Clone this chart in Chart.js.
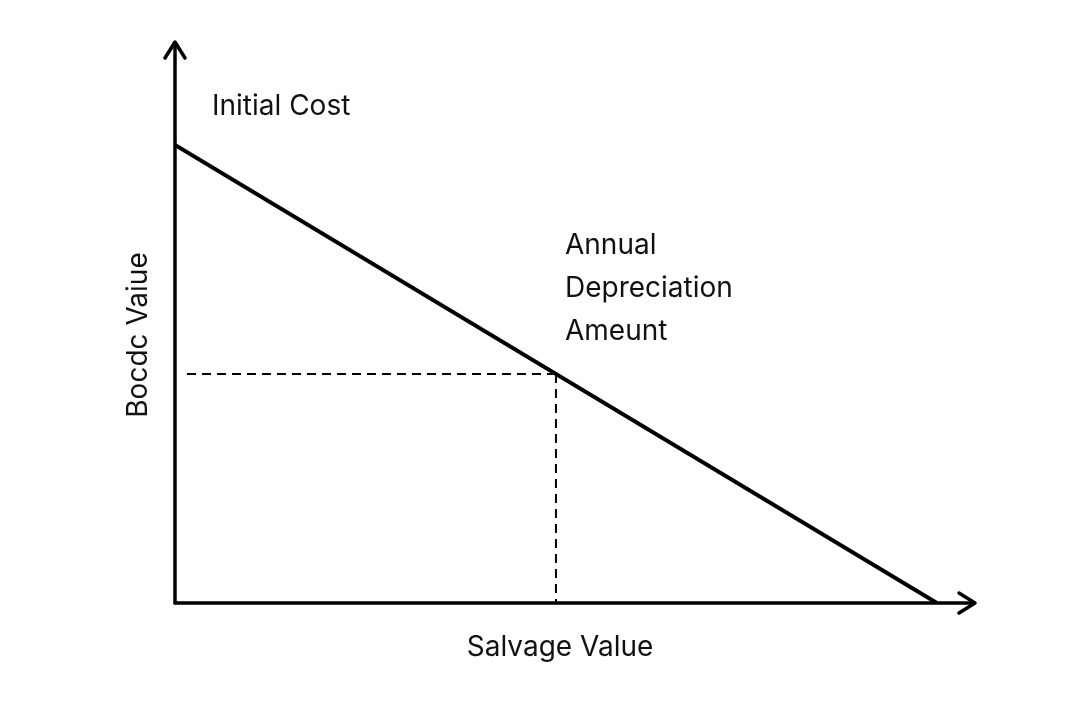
<!DOCTYPE html>
<html><head><meta charset="utf-8">
<script src="https://cdn.jsdelivr.net/npm/chart.js@4"></script>
<style>html,body{margin:0;padding:0;background:#fff}#c{display:block}</style>
</head><body>
<canvas id="c" width="1080" height="720"></canvas>
<script>
const lineX = [0, 10];
const lineY = [10, 0];
const markX = 5;
const markY = 5;
const xTitle = "Salvage Value";
const yTitle = "Bocdc Vaiue";
const labelInitial = "Initial Cost";
const labelAnnual = ["Annual", "Depreciation", "Ameunt"];

const FONT = '28px Inter, "Open Sans", sans-serif';

const deco = {
  id: 'deco',
  afterDraw(chart) {
    const {ctx, scales: {x, y}} = chart;
    const x0 = x.getPixelForValue(0), y0 = y.getPixelForValue(0);
    const xEnd = x.getPixelForValue(x.max), yEnd = y.getPixelForValue(y.max);
    ctx.save();
    ctx.strokeStyle = '#000'; ctx.lineWidth = 3.5; ctx.lineCap = 'round'; ctx.lineJoin = 'round';
    ctx.beginPath(); ctx.moveTo(x0, y0); ctx.lineTo(xEnd - 2, y0); ctx.stroke();
    ctx.beginPath(); ctx.moveTo(x0, y0); ctx.lineTo(x0, yEnd + 2); ctx.stroke();
    ctx.beginPath(); ctx.moveTo(xEnd - 16, y0 - 10); ctx.lineTo(xEnd, y0); ctx.lineTo(xEnd - 16, y0 + 10); ctx.stroke();
    ctx.beginPath(); ctx.moveTo(x0 - 10, yEnd + 16); ctx.lineTo(x0, yEnd); ctx.lineTo(x0 + 10, yEnd + 16); ctx.stroke();
    // dashed guides
    const mx = x.getPixelForValue(markX), my = y.getPixelForValue(markY);
    ctx.lineWidth = 2; ctx.lineCap = 'butt'; ctx.setLineDash([9, 6]);
    ctx.beginPath(); ctx.moveTo(x0 + 12, my); ctx.lineTo(mx, my); ctx.stroke();
    ctx.beginPath(); ctx.moveTo(mx, my); ctx.lineTo(mx, y0); ctx.stroke();
    ctx.setLineDash([]);
    // texts
    ctx.fillStyle = '#111'; ctx.font = FONT; ctx.textBaseline = 'middle';
    ctx.textAlign = 'left';
    ctx.fillText(labelInitial, 212, 107);
    labelAnnual.forEach((t, i) => ctx.fillText(t, 565, 246 + i * 43));
    ctx.textAlign = 'center';
    ctx.fillText(xTitle, 560, 648);
    ctx.translate(139, 335); ctx.rotate(-Math.PI / 2);
    ctx.fillText(yTitle, 0, 0);
    ctx.restore();
  }
};

new Chart(document.getElementById('c'), {
  type: 'line',
  data: { datasets: [{ data: lineX.map((v, i) => ({x: v, y: lineY[i]})), borderColor: '#000', borderWidth: 4, pointRadius: 0, fill: false }] },
  options: {
    responsive: false, animation: false,
    layout: { padding: { left: 175, right: 105, top: 42, bottom: 117 } },
    plugins: { legend: { display: false }, tooltip: { enabled: false } },
    scales: {
      x: { type: 'linear', min: 0, max: 10.5, display: false },
      y: { type: 'linear', min: 0, max: 12.25, display: false }
    }
  },
  plugins: [deco]
});
</script>
</body></html>
